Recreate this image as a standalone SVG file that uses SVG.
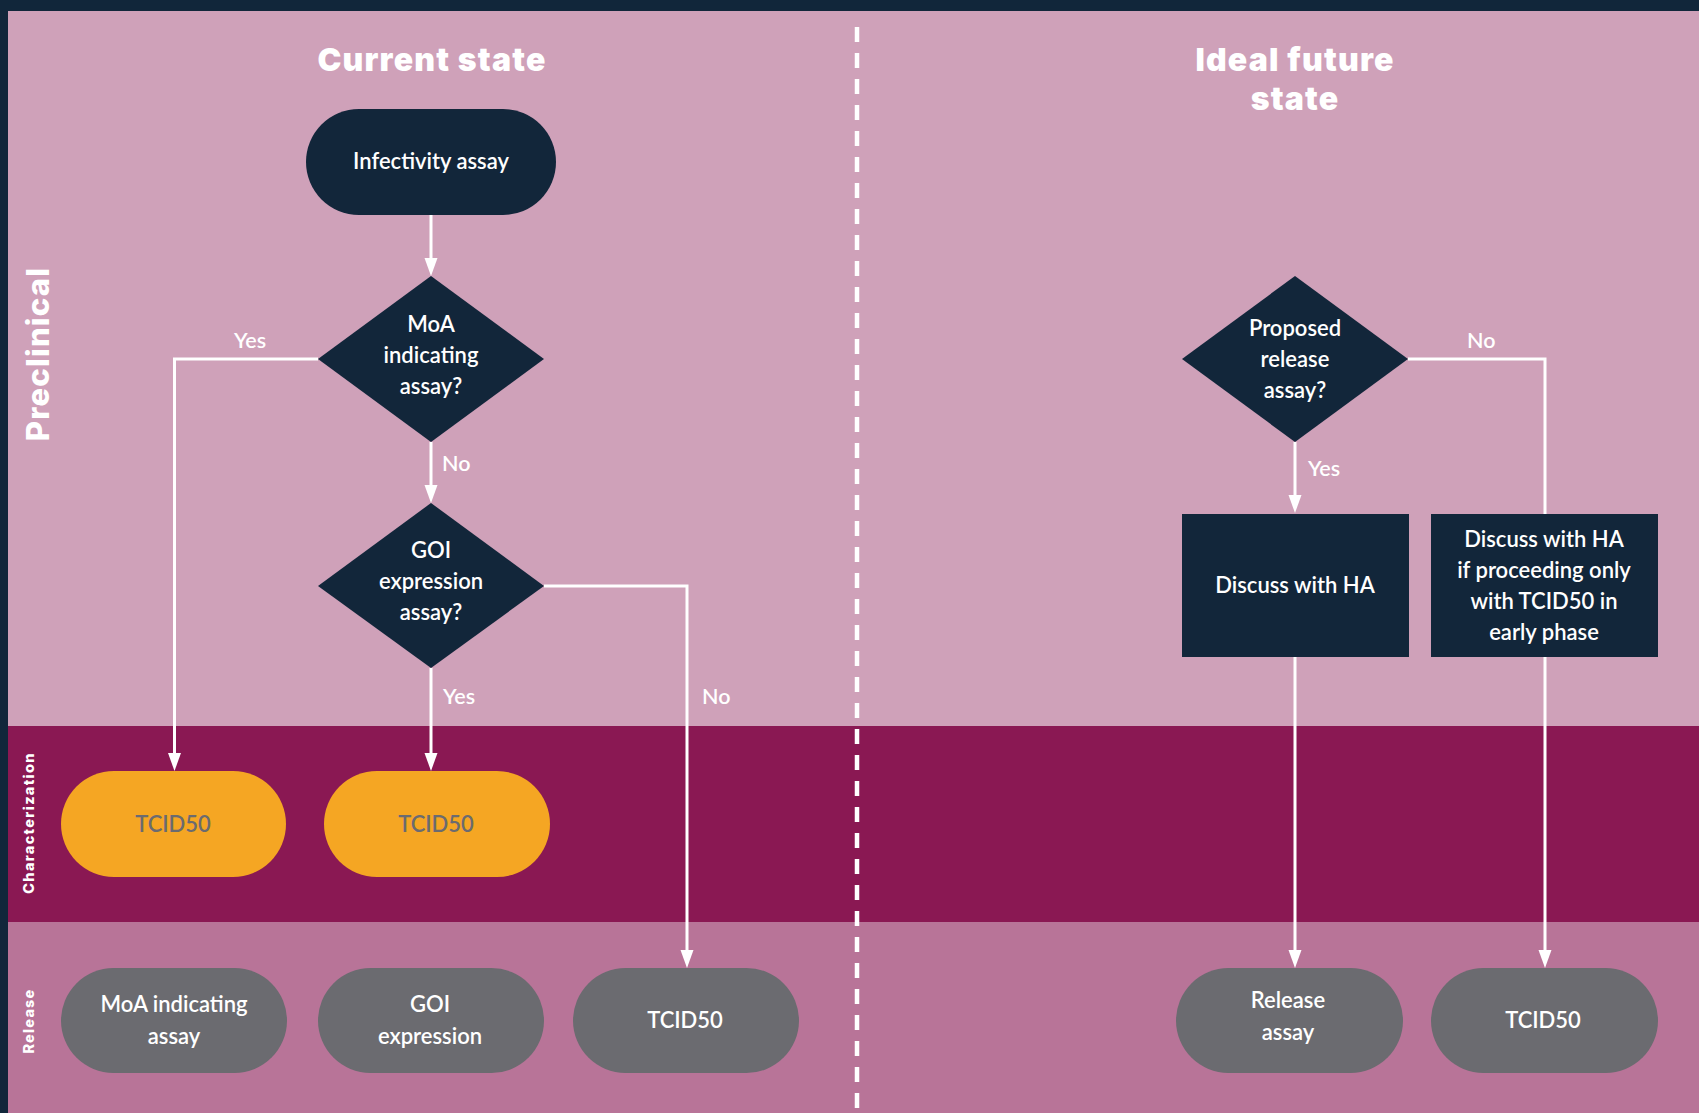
<svg xmlns="http://www.w3.org/2000/svg" width="1699" height="1113" viewBox="0 0 1699 1113">
  <defs>
    <marker id="arrow" markerUnits="userSpaceOnUse" markerWidth="18" markerHeight="14" refX="10" refY="6.5" orient="auto">
      <path d="M0,0 L18,6.5 L0,13 z" fill="#ffffff"/>
    </marker>
    <style>
      .lane-pre { fill: #CFA1B9; }
      .lane-char { fill: #8A1853; }
      .lane-rel { fill: #B87498; }
      .dark { fill: #12263A; }
      .orange { fill: #F5A623; }
      .grey { fill: #6B6B70; }
      .t { font-family: Lato, "Liberation Sans", sans-serif; font-weight: 600; font-size: 22px; fill: #ffffff; text-anchor: middle; }
      .t-grey { font-family: Lato, "Liberation Sans", sans-serif; font-weight: 600; font-size: 22px; fill: #6B6B70; text-anchor: middle; }
      .lbl { font-family: Lato, "Liberation Sans", sans-serif; font-weight: 600; font-size: 21.5px; fill: #ffffff; }
      .title { font-family: Inter, "Noto Sans", sans-serif; font-weight: 900; font-size: 32px; letter-spacing: 1.2px; fill: #ffffff; text-anchor: middle; }
      .lane-lbl { font-family: Inter, "Noto Sans", sans-serif; font-weight: 800; fill: #ffffff; text-anchor: middle; }
      .conn { fill: none; stroke: #ffffff; stroke-width: 3; }
    </style>
  </defs>

  <!-- frame and swimlanes -->
  <rect x="0" y="0" width="1699" height="1113" fill="#11263A"/>
  <rect class="lane-pre" x="8" y="11" width="1691" height="715"/>
  <rect class="lane-char" x="8" y="726" width="1691" height="196"/>
  <rect class="lane-rel" x="8" y="922" width="1691" height="191"/>

  <!-- lane labels -->
  <text class="lane-lbl" font-size="31" letter-spacing="1.2" transform="translate(49,354) rotate(-90)">Preclinical</text>
  <text class="lane-lbl" font-size="14.5" letter-spacing="1.3" transform="translate(34,823) rotate(-90)">Characterization</text>
  <text class="lane-lbl" font-size="14.5" letter-spacing="1.2" transform="translate(34,1021) rotate(-90)">Release</text>

  <!-- divider between the two states -->
  <line x1="857" y1="27" x2="857" y2="1108" stroke="#ffffff" stroke-width="4.5" stroke-dasharray="15 11"/>

  <!-- column titles -->
  <text class="title" x="432" y="71">Current state</text>
  <text class="title" x="1295" y="71">Ideal future</text>
  <text class="title" x="1295" y="110">state</text>

  <!-- connectors -->
  <g id="connectors">
    <path class="conn" d="M431,215 V268" marker-end="url(#arrow)"/>
    <path class="conn" d="M318,359 H174.5 V763" marker-end="url(#arrow)"/>
    <path class="conn" d="M431,442 V495" marker-end="url(#arrow)"/>
    <path class="conn" d="M431,668 V763" marker-end="url(#arrow)"/>
    <path class="conn" d="M544,586 H687 V960" marker-end="url(#arrow)"/>
    <path class="conn" d="M1295,442 V505" marker-end="url(#arrow)"/>
    <path class="conn" d="M1408,359 H1545 V514"/>
    <path class="conn" d="M1295,657 V960" marker-end="url(#arrow)"/>
    <path class="conn" d="M1545,657 V960" marker-end="url(#arrow)"/>
    <text class="lbl" x="234" y="348">Yes</text>
    <text class="lbl" x="442" y="471">No</text>
    <text class="lbl" x="443" y="704">Yes</text>
    <text class="lbl" x="702" y="704">No</text>
    <text class="lbl" x="1467" y="348">No</text>
    <text class="lbl" x="1308" y="476">Yes</text>
  </g>

  <!-- current state nodes -->
  <g id="infectivity">
    <rect class="dark" x="306" y="109" width="250" height="106" rx="53"/>
    <text class="t" x="431" y="169">Infectivity assay</text>
  </g>
  <g id="moa-decision">
    <polygon class="dark" points="431,276 544,359 431,442 318,359"/>
    <text class="t" x="431" y="332">MoA</text>
    <text class="t" x="431" y="363">indicating</text>
    <text class="t" x="431" y="394">assay?</text>
  </g>
  <g id="goi-decision">
    <polygon class="dark" points="431,503 544,586 431,668 318,586"/>
    <text class="t" x="431" y="558">GOI</text>
    <text class="t" x="431" y="589">expression</text>
    <text class="t" x="431" y="620">assay?</text>
  </g>
  <g id="char-tcid50-a">
    <rect class="orange" x="61" y="771" width="225" height="106" rx="53"/>
    <text class="t-grey" x="173" y="832">TCID50</text>
  </g>
  <g id="char-tcid50-b">
    <rect class="orange" x="324" y="771" width="226" height="106" rx="53"/>
    <text class="t-grey" x="436" y="832">TCID50</text>
  </g>
  <g id="rel-moa">
    <rect class="grey" x="61" y="968" width="226" height="105" rx="52.5"/>
    <text class="t" x="174" y="1012">MoA indicating</text>
    <text class="t" x="174" y="1044">assay</text>
  </g>
  <g id="rel-goi">
    <rect class="grey" x="318" y="968" width="226" height="105" rx="52.5"/>
    <text class="t" x="430" y="1012">GOI</text>
    <text class="t" x="430" y="1044">expression</text>
  </g>
  <g id="rel-tcid50">
    <rect class="grey" x="573" y="968" width="226" height="105" rx="52.5"/>
    <text class="t" x="685" y="1028">TCID50</text>
  </g>

  <!-- ideal future state nodes -->
  <g id="proposed-decision">
    <polygon class="dark" points="1295,276 1408,359 1295,442 1182,359"/>
    <text class="t" x="1295" y="336">Proposed</text>
    <text class="t" x="1295" y="367">release</text>
    <text class="t" x="1295" y="398">assay?</text>
  </g>
  <g id="discuss-ha">
    <rect class="dark" x="1182" y="514" width="227" height="143"/>
    <text class="t" x="1295" y="593">Discuss with HA</text>
  </g>
  <g id="discuss-ha-tcid50">
    <rect class="dark" x="1431" y="514" width="227" height="143"/>
    <text class="t" x="1544" y="547">Discuss with HA</text>
    <text class="t" x="1544" y="578">if proceeding only</text>
    <text class="t" x="1544" y="609">with TCID50 in</text>
    <text class="t" x="1544" y="640">early phase</text>
  </g>
  <g id="rel-release-assay">
    <rect class="grey" x="1176" y="968" width="227" height="105" rx="52.5"/>
    <text class="t" x="1288" y="1008">Release</text>
    <text class="t" x="1288" y="1040">assay</text>
  </g>
  <g id="rel-tcid50-future">
    <rect class="grey" x="1431" y="968" width="227" height="105" rx="52.5"/>
    <text class="t" x="1543" y="1028">TCID50</text>
  </g>
</svg>
